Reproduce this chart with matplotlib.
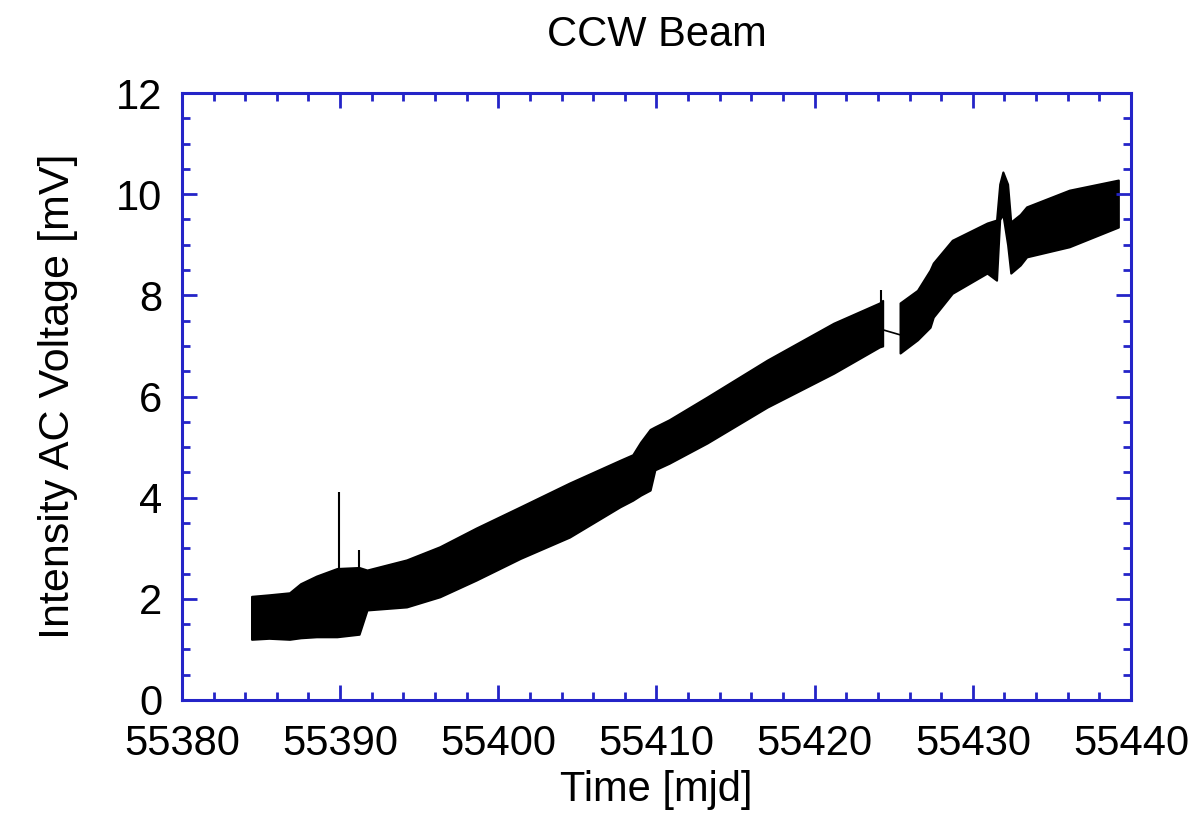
import matplotlib.pyplot as plt
from matplotlib.ticker import MultipleLocator

# Envelope of the dense CCW beam trace (mjd, mV)
seg1_t = [55384.4, 55385.5, 55386.8, 55387.5, 55388.5, 55389.8, 55391.2, 55391.7,
          55394.2, 55396.3, 55398.6, 55401.4, 55404.5, 55407.7, 55408.5, 55409.0,
          55409.6, 55409.9, 55410.8, 55413.2, 55417.0, 55421.2, 55424.1, 55424.3]
seg1_hi = [2.05, 2.08, 2.12, 2.30, 2.45, 2.60, 2.62, 2.57,
           2.77, 3.03, 3.40, 3.82, 4.29, 4.74, 4.85, 5.10,
           5.35, 5.40, 5.54, 5.99, 6.72, 7.45, 7.85, 7.90]
seg1_lo = [1.20, 1.22, 1.20, 1.23, 1.25, 1.25, 1.30, 1.78,
           1.84, 2.04, 2.37, 2.80, 3.22, 3.82, 3.95, 4.05,
           4.15, 4.55, 4.68, 5.08, 5.79, 6.46, 6.98, 7.00]

seg2_t = [55425.4, 55426.5, 55427.3, 55427.5, 55428.7, 55430.9, 55431.5, 55431.7,
          55431.9, 55432.2, 55432.4, 55433.0, 55433.4, 55436.1, 55439.2]
seg2_hi = [7.85, 8.10, 8.50, 8.64, 9.09, 9.43, 9.49, 10.20,
           10.44, 10.20, 9.45, 9.60, 9.75, 10.08, 10.28]
seg2_lo = [6.86, 7.12, 7.37, 7.57, 8.04, 8.44, 8.30, 9.50,
           9.60, 9.00, 8.44, 8.60, 8.76, 8.96, 9.35]

# data gap bridged by a thin line
gap_t = [55424.3, 55425.4]
gap_v = [7.32, 7.22]

# isolated spikes
spike_t = [55389.9, 55391.2, 55424.2]
spike_v = [4.11, 2.97, 8.10]
spike_base = [2.5, 2.5, 7.5]

blue = '#2424c8'
plt.rcParams['font.family'] = ['Liberation Sans', 'DejaVu Sans']

fig = plt.figure(figsize=(12.01, 8.19), dpi=100)
ax = fig.add_axes([0.1515, 0.1453, 0.7902, 0.7411])

ax.fill_between(seg1_t, seg1_lo, seg1_hi, color='black', lw=1.5)
ax.fill_between(seg2_t, seg2_lo, seg2_hi, color='black', lw=1.5)
ax.plot(gap_t, gap_v, color='black', lw=1.2)
ax.vlines(spike_t, spike_base, spike_v, color='black', lw=1.5)

ax.set_xlim(55380, 55440)
ax.set_ylim(0, 12)
ax.xaxis.set_major_locator(MultipleLocator(10))
ax.xaxis.set_minor_locator(MultipleLocator(2))
ax.yaxis.set_major_locator(MultipleLocator(2))
ax.yaxis.set_minor_locator(MultipleLocator(0.5))
ax.xaxis.set_major_formatter(plt.FuncFormatter(lambda v, p: f'{v:.0f}'))

for s in ax.spines.values():
    s.set_color(blue)
    s.set_linewidth(2.2)
ax.tick_params(which='both', direction='in', top=True, right=True,
               color=blue, labelsize=30, width=2)
ax.tick_params(which='major', length=11)
ax.tick_params(which='minor', length=6)
ax.tick_params(axis='x', pad=17)
ax.tick_params(axis='y', pad=14)

ax.set_xlabel('Time [mjd]', fontsize=30)
ax.set_ylabel('Intensity AC Voltage [mV]', fontsize=31)
ax.xaxis.set_label_coords(0.5, -0.115)
ax.yaxis.set_label_coords(-0.11, 0.5)
fig.text(0.547, 0.957, 'CCW Beam', ha='center', va='center', fontsize=30)

fig.savefig('out.png', dpi=100)
